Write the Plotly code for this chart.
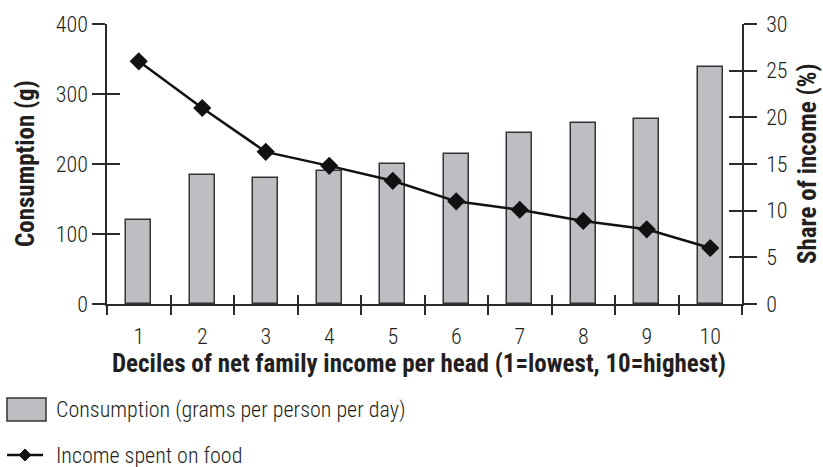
import plotly.graph_objects as go

# Deciles of net family income per head
deciles = [1, 2, 3, 4, 5, 6, 7, 8, 9, 10]
decile_labels = ["1", "2", "3", "4", "5", "6", "7", "8", "9", "10"]
# Consumption (grams per person per day)
consumption_g = [120, 185, 180, 190, 200, 215, 245, 258, 265, 338]
# Share of income spent on food (%)
food_share_pct = [26, 21, 16.3, 14.8, 13.2, 11, 10.1, 8.9, 8, 6]

left_ticks = [0, 100, 200, 300, 400]
right_ticks = [0, 5, 10, 15, 20, 25, 30]
boundaries = [d - 0.5 for d in deciles] + [deciles[-1] + 0.5]

INK = "#231f20"
AXIS = "#2b2b2b"
BAR_FILL = "#bdbec1"
FONT = "Liberation Sans Narrow, Roboto Condensed, Arial Narrow, Roboto, sans-serif"

fig = go.Figure()

fig.add_trace(go.Bar(
    x=deciles, y=consumption_g, width=0.39,
    marker=dict(color=BAR_FILL, line=dict(color="#333333", width=1.5)),
    name="Consumption (grams per person per day)",
    xaxis="x", yaxis="y", showlegend=False,
))
fig.add_trace(go.Scatter(
    x=deciles, y=food_share_pct, mode="lines+markers",
    line=dict(color="#111111", width=2.5),
    marker=dict(symbol="diamond", size=14, color="#111111"),
    name="Income spent on food",
    xaxis="x", yaxis="y2", showlegend=False,
))
# empty traces that bind the overlay axes carrying the inner half of each tick
for xa, ya in [("x2", "y"), ("x", "y3"), ("x", "y4")]:
    fig.add_trace(go.Scatter(x=[None], y=[None], xaxis=xa, yaxis=ya,
                             showlegend=False, hoverinfo="skip"))

tick_font = dict(family=FONT, size=22, color=INK, weight=300)
xr = [0.5, 10.5]

fig.update_layout(
    width=823, height=467,
    margin=dict(l=107, r=81, t=24, b=163),
    paper_bgcolor="white", plot_bgcolor="white",
    font=dict(family=FONT, color=INK),
    showlegend=False,
    bargap=0,
    xaxis=dict(
        range=xr, tickvals=deciles, ticktext=decile_labels, ticks="",
        tickfont=tick_font, ticklabelstandoff=12,
        showline=True, linecolor=AXIS, linewidth=1.5, showgrid=False, zeroline=False,
        minor=dict(tickmode="array", tickvals=boundaries, ticks="outside",
                   ticklen=9, tickwidth=1.5, tickcolor=AXIS, showgrid=False),
    ),
    xaxis2=dict(
        range=xr, overlaying="x", anchor="y", side="bottom",
        tickmode="array", tickvals=boundaries, ticks="inside", ticklen=9,
        tickwidth=1.5, tickcolor=AXIS, showticklabels=False,
        showline=False, showgrid=False, zeroline=False,
    ),
    yaxis=dict(
        range=[0, 400], tickvals=left_ticks, ticks="outside", ticklen=13,
        tickwidth=1.5, tickcolor=AXIS, tickfont=tick_font,
        showline=True, linecolor=AXIS, linewidth=1.5, showgrid=False, zeroline=False,
    ),
    yaxis2=dict(
        range=[0, 30], tickvals=right_ticks, overlaying="y", side="right", anchor="x",
        ticks="outside", ticklen=13, tickwidth=1.5, tickcolor=AXIS, tickfont=tick_font,
        ticklabelstandoff=5,
        showline=True, linecolor=AXIS, linewidth=1.5, showgrid=False, zeroline=False,
    ),
    yaxis3=dict(
        range=[0, 400], tickvals=left_ticks, overlaying="y", side="left", anchor="x",
        ticks="inside", ticklen=13, tickwidth=1.5, tickcolor=AXIS,
        showticklabels=False, showline=False, showgrid=False, zeroline=False,
    ),
    yaxis4=dict(
        range=[0, 30], tickvals=right_ticks, overlaying="y", side="right", anchor="x",
        ticks="inside", ticklen=13, tickwidth=1.5, tickcolor=AXIS,
        showticklabels=False, showline=False, showgrid=False, zeroline=False,
    ),
)

title_font = dict(family=FONT, size=25, color=INK, weight="bold")

# axis titles
fig.add_annotation(text="Consumption (g)", textangle=-90, xref="paper", yref="paper",
                   x=0, y=0.5, xanchor="center", yanchor="middle", xshift=-82,
                   showarrow=False, font=title_font)
fig.add_annotation(text="Share of income (%)", textangle=-90, xref="paper", yref="paper",
                   x=1, y=0.5, xanchor="center", yanchor="middle", xshift=65,
                   showarrow=False, font=title_font)
fig.add_annotation(text="Deciles of net family income per head (1=lowest, 10=highest)",
                   xref="paper", yref="paper", x=0.5, y=0, xanchor="center",
                   yanchor="middle", xshift=-6, yshift=-59,
                   showarrow=False, font=title_font)

# legend keys
fig.add_shape(type="rect", xref="paper", yref="paper", xsizemode="pixel",
              ysizemode="pixel", xanchor=0, yanchor=0, x0=-100, x1=-61, y0=-117, y1=-94,
              fillcolor=BAR_FILL, line=dict(color="#333333", width=1.5))
fig.add_shape(type="line", xref="paper", yref="paper", xsizemode="pixel",
              ysizemode="pixel", xanchor=0, yanchor=0, x0=-100, x1=-64, y0=-151, y1=-151,
              line=dict(color="#111111", width=2.5))
fig.add_shape(type="path", xref="paper", yref="paper", xsizemode="pixel",
              ysizemode="pixel", xanchor=0, yanchor=0,
              path="M -82,-145 L -76,-151 L -82,-157 L -88,-151 Z",
              fillcolor="#111111", line=dict(color="#111111", width=1))

legend_font = dict(family=FONT, size=22, color=INK, weight=300)
fig.add_annotation(text="Consumption (grams per person per day)", xref="paper", yref="paper",
                   x=0, y=0, xanchor="left", yanchor="middle", xshift=-53, yshift=-106,
                   showarrow=False, font=legend_font)
fig.add_annotation(text="Income spent on food", xref="paper", yref="paper",
                   x=0, y=0, xanchor="left", yanchor="middle", xshift=-53, yshift=-151,
                   showarrow=False, font=legend_font)

fig.write_html("out.html")
